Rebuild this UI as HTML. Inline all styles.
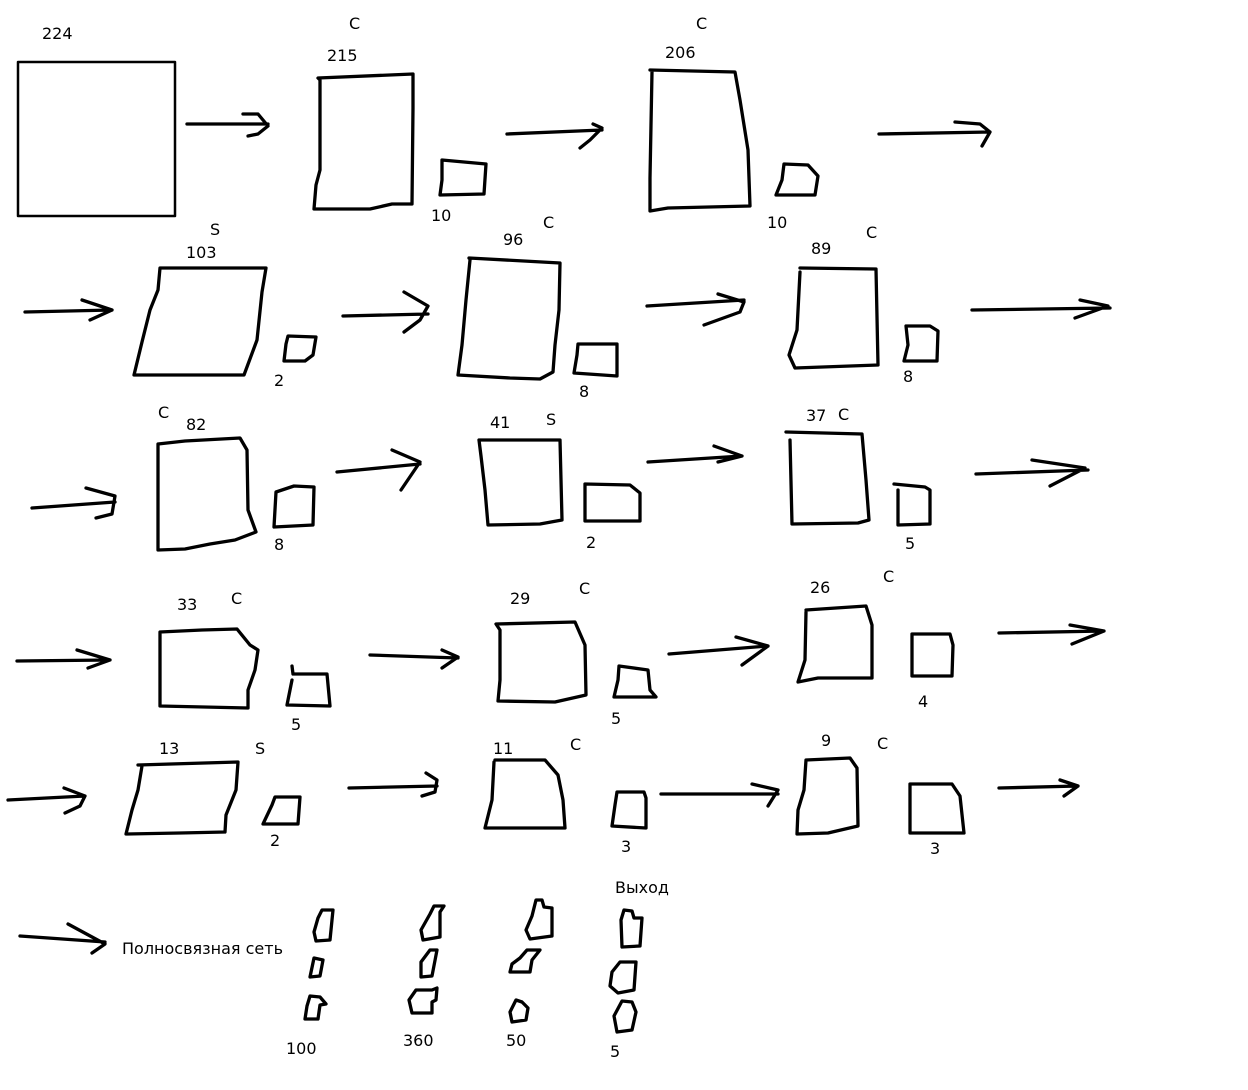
<!DOCTYPE html>
<html><head><meta charset="utf-8"><style>
html,body{margin:0;padding:0;background:#fff;width:1248px;height:1090px;overflow:hidden}
svg{display:block}
text{font-family:"DejaVu Sans","Liberation Sans",sans-serif;font-size:16px;fill:#000}
path,rect{fill:none;stroke:#000;stroke-width:3.3;stroke-linejoin:round;stroke-linecap:round}
</style></head><body>
<svg width="1248" height="1090" viewBox="0 0 1248 1090">
<text x="42" y="39">224</text>
<rect x="18" y="62" width="157" height="154" style="stroke-width:2.5"/>
<path d="M187 124 L268 124 M243 114 L258 114 L268 126 L258 134 L248 136"/>
<text x="349" y="29">C</text><text x="327" y="61">215</text>
<path d="M318 78 L413 74 L413 108 L412 204 L392 204 L370 209 L314 209 L316 185 L320 170 L320 80 Z"/>
<path d="M442 160 L486 164 L484 194 L440 195 L442 180 Z"/>
<text x="431" y="221">10</text>
<path d="M507 134 L602 130 M593 124 L602 128 L590 140 L580 148"/>
<text x="696" y="29">C</text><text x="665" y="58">206</text>
<path d="M650 70 L735 72 L740 100 L744 125 L748 150 L750 206 L668 208 L650 211 L650 178 L652 72"/>
<path d="M784 164 L808 165 L818 176 L815 195 L776 195 L782 180 Z"/>
<text x="767" y="228">10</text>
<path d="M879 134 L990 132 M955 122 L980 124 L990 132 L982 146"/>
<path d="M25 312 L112 310 M82 300 L112 310 L90 320"/>
<text x="210" y="235">S</text><text x="186" y="258">103</text>
<path d="M160 268 L266 268 L262 292 L257 340 L244 375 L134 375 L142 342 L150 310 L158 290 Z"/>
<path d="M288 336 L316 337 L313 355 L305 361 L284 361 L286 344 Z"/>
<text x="274" y="386">2</text>
<path d="M343 316 L428 314 M404 292 L428 306 L420 320 L404 332"/>
<text x="503" y="245">96</text><text x="543" y="228">C</text>
<path d="M469 258 L560 263 L559 310 L555 345 L553 372 L540 379 L510 378 L458 375 L462 345 L466 300 L470 260"/>
<path d="M578 344 L617 344 L617 376 L574 373 L577 355 Z"/>
<text x="579" y="397">8</text>
<path d="M647 306 L744 300 M718 294 L744 302 L740 312 L704 325"/>
<text x="811" y="254">89</text><text x="866" y="238">C</text>
<path d="M800 268 L876 269 L878 365 L795 368 L789 355 L797 330 L800 272"/>
<path d="M906 326 L930 326 L938 331 L937 361 L904 361 L908 345 Z"/>
<text x="903" y="382">8</text>
<path d="M972 310 L1110 308 M1080 300 L1108 306 L1075 318"/>
<text x="158" y="418">C</text><text x="186" y="430">82</text>
<path d="M158 444 L185 441 L240 438 L247 450 L248 510 L256 532 L235 540 L210 544 L185 549 L158 550 Z"/>
<path d="M276 492 L294 486 L314 487 L313 525 L274 527 Z"/>
<text x="274" y="550">8</text>
<path d="M32 508 L115 502 M86 488 L115 496 L112 514 L96 518"/>
<path d="M337 472 L420 464 M392 450 L420 462 L401 490"/>
<text x="490" y="428">41</text><text x="546" y="425">S</text>
<path d="M479 440 L560 440 L562 520 L540 524 L488 525 L485 490 L481 456 Z"/>
<path d="M585 484 L630 485 L640 493 L640 521 L585 521 Z"/>
<text x="586" y="548">2</text>
<path d="M648 462 L742 456 M714 446 L742 456 L718 462"/>
<text x="806" y="421">37</text><text x="838" y="420">C</text>
<path d="M786 432 L862 434 L866 480 L869 520 L858 523 L792 524 L790 440"/>
<path d="M894 484 L925 487 L930 490 L930 524 L898 525 L898 490"/>
<text x="905" y="549">5</text>
<path d="M976 474 L1088 470 M1032 460 L1085 468 L1050 486"/>
<text x="177" y="610">33</text><text x="231" y="604">C</text>
<path d="M160 632 L202 630 L237 629 L250 645 L258 650 L255 670 L248 690 L248 708 L160 706 Z"/>
<path d="M292 666 L293 674 L327 674 L330 706 L287 705 L292 680"/>
<text x="291" y="730">5</text>
<path d="M17 661 L110 660 M77 650 L110 660 L88 668"/>
<path d="M370 655 L458 658 M442 650 L458 657 L442 668"/>
<text x="510" y="604">29</text><text x="579" y="594">C</text>
<path d="M496 624 L575 622 L585 645 L586 695 L555 702 L498 701 L500 680 L500 630 Z"/>
<path d="M619 666 L648 670 L650 690 L656 697 L614 697 L618 680 Z"/>
<text x="611" y="724">5</text>
<path d="M669 654 L768 646 M736 637 L768 646 L742 665"/>
<text x="810" y="593">26</text><text x="883" y="582">C</text>
<path d="M806 610 L866 606 L872 625 L872 678 L818 678 L798 682 L805 660 L806 612"/>
<path d="M912 634 L950 634 L953 645 L952 676 L912 676 Z"/>
<text x="918" y="707">4</text>
<path d="M999 633 L1104 631 M1070 625 L1104 631 L1072 644"/>
<text x="159" y="754">13</text><text x="255" y="754">S</text>
<path d="M138 765 L238 762 L236 790 L226 815 L225 832 L180 833 L126 834 L132 810 L138 790 L142 766"/>
<path d="M275 797 L300 797 L298 824 L263 824 L272 805 Z"/>
<text x="270" y="846">2</text>
<path d="M8 800 L85 796 M64 788 L85 796 L80 806 L65 813"/>
<path d="M349 788 L437 786 M426 773 L437 780 L435 792 L422 796"/>
<text x="493" y="754">11</text><text x="570" y="750">C</text>
<path d="M495 760 L545 760 L558 775 L563 800 L565 828 L485 828 L492 800 L494 762"/>
<path d="M617 792 L644 792 L646 798 L646 828 L612 826 L615 805 Z"/>
<text x="621" y="852">3</text>
<path d="M661 794 L778 794 M752 784 L778 790 L768 806"/>
<text x="821" y="746">9</text><text x="877" y="749">C</text>
<path d="M806 760 L850 758 L857 768 L858 826 L828 833 L797 834 L798 810 L804 790 Z"/>
<path d="M910 784 L952 784 L960 796 L964 833 L910 833 Z"/>
<text x="930" y="854">3</text>
<path d="M999 788 L1078 786 M1060 780 L1078 786 L1064 796"/>
<path d="M20 936 L105 942 M68 924 L105 944 L92 953"/>
<text x="122" y="954">Полносвязная сеть</text>
<path d="M322 910 L333 910 L330 940 L316 941 L314 932 L318 918 Z"/>
<path d="M314 958 L323 960 L320 976 L310 977 Z"/>
<path d="M310 996 L320 997 L326 1004 L320 1005 L318 1019 L305 1019 L307 1006 Z"/>
<text x="286" y="1054">100</text>
<path d="M434 906 L444 906 L440 912 L440 937 L423 940 L421 930 L430 914 Z"/>
<path d="M430 950 L437 950 L432 976 L421 977 L421 962 Z"/>
<path d="M416 990 L432 990 L437 988 L436 1000 L432 1002 L432 1013 L412 1013 L409 1000 Z"/>
<text x="403" y="1046">360</text>
<path d="M536 900 L542 900 L544 907 L552 908 L552 936 L530 939 L526 930 L532 916 Z"/>
<path d="M527 950 L540 950 L532 960 L530 972 L510 972 L512 964 L520 958 Z"/>
<path d="M516 1000 L522 1002 L528 1008 L526 1020 L512 1022 L510 1012 Z"/>
<text x="506" y="1046">50</text>
<text x="615" y="893">Выход</text>
<path d="M624 910 L632 911 L634 918 L642 918 L640 946 L622 947 L621 920 Z"/>
<path d="M620 962 L636 962 L634 990 L618 993 L610 986 L612 972 Z"/>
<path d="M622 1001 L632 1002 L636 1012 L632 1030 L617 1032 L614 1016 Z"/>
<text x="610" y="1057">5</text>
</svg>
</body></html>
